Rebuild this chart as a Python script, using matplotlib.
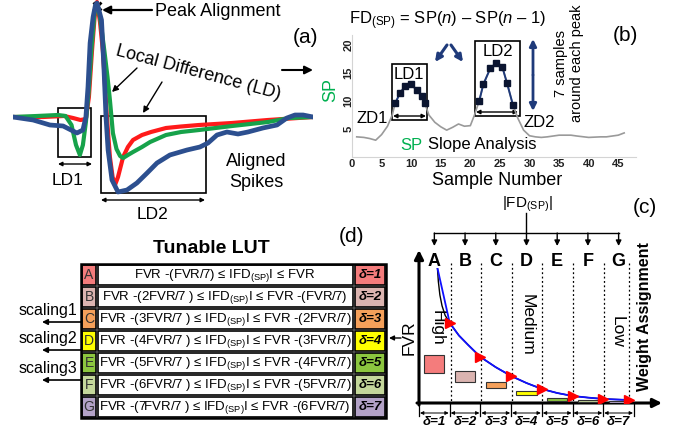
import matplotlib.pyplot as plt
from matplotlib.patches import Rectangle

plt.rcParams['font.family'] = ['Liberation Sans', 'DejaVu Sans']
plt.rcParams['mathtext.fontset'] = 'custom'
plt.rcParams['mathtext.rm'] = 'Liberation Sans'
plt.rcParams['mathtext.it'] = 'Liberation Sans:italic'
plt.rcParams['mathtext.bf'] = 'Liberation Sans:bold'

W, H = 683, 428

# (a) aligned spikes: time index vs amplitude
red_t = [0, 10, 17, 20, 22.5, 24.3, 25.3, 26.3, 27.2, 28, 29, 30, 31.3, 32.3, 33.2, 34,
         35, 36.7, 38.3, 40, 43, 46, 51, 56, 62, 73, 85, 100]
red_amp = [0, 0, 1, -1, -3, -2, 20, 65, 100, 115, 95, 65, 0, -40, -60, -68,
           -60, -40, -30, -23, -18, -15, -11, -9.5, -8, -6, -3, 0]
green_t = [0, 8, 15, 17.5, 19.5, 21, 22.3, 23.3, 24.3, 25.2, 26.2, 27.2, 28, 29, 30.5, 31.5,
           32.3, 33.3, 34.5, 35.7, 36.7, 38.3, 40, 43, 45.7, 51, 56, 62, 73, 85, 92, 100]
green_amp = [0, 1, 2, 1, -8, -28, -38, -28, -5, 25, 70, 105, 113, 100, 65, 40,
             17, -16, -32, -39, -41, -38, -35, -30, -25, -18, -15, -13, -9, -5, -1, 0]
blue_t = [0, 6.7, 12.3, 16.7, 21.3, 23.3, 24.3, 25.0, 25.7, 26.7, 27.5, 28, 29.5, 30.3, 31,
          31.7, 33, 35, 38, 41.3, 44.7, 48, 52.3, 58, 62.3, 65, 68, 71.3, 75, 78.3, 83.3,
          88, 91.3, 94, 96.7, 100]
blue_amp = [0, -3, -8, -9, -16, -13, 0, 30, 74, 100, 112, 114, 97, 50, 0,
            -33, -63, -75, -73, -66, -56, -46, -38, -33, -30, -26, -18, -15, -17, -15, -11,
            -8, -1, 2, 2, 0]

# (b) SP curve
sample_n = [0.8, 2, 3, 4, 5, 6, 6.8, 7.3, 8.1, 9.0, 10.0, 11.0, 11.8, 12.3, 13, 14, 15, 16,
            17, 18, 19, 20, 20.7, 21.5, 22.2, 23.4, 24.4, 25.4, 26.2, 27.2, 28, 29, 30, 31,
            32, 33, 35, 37, 38, 40, 42, 43, 45, 46]
sp_value = [3.6, 3.5, 3.3, 3.0, 4.0, 5.5, 7.5, 9.6, 11.4, 12.7, 13.0, 11.9, 10.9, 9.6, 7.5,
            6.2, 5.4, 4.8, 5.3, 5.9, 5.5, 5.6, 7.5, 10.0, 13.0, 15.9, 16.8, 16.1, 13.2, 9.3,
            7.0, 4.8, 3.8, 3.6, 3.5, 3.6, 3.9, 3.9, 3.75, 3.5, 3.6, 3.6, 3.9, 4.3]
ld1_n = [7.3, 8.1, 9.0, 10.0, 11.0, 11.8, 12.3]
ld1_sp = [9.6, 11.4, 12.7, 13.0, 11.9, 10.9, 9.6]
ld2_n = [21.5, 22.2, 23.4, 24.4, 25.4, 26.2, 27.2]
ld2_sp = [10.0, 13.0, 15.9, 16.8, 16.1, 13.2, 9.3]
b_xticks = [0, 5, 10, 15, 20, 25, 30, 35, 40, 45]
b_yticks = [5, 10, 15, 20]

# (c) weight assignment
bins = ['A', 'B', 'C', 'D', 'E', 'F', 'G']
deltas = ['δ=1', 'δ=2', 'δ=3', 'δ=4', 'δ=5', 'δ=6', 'δ=7']
fvr_x = [0.6, 0.63, 0.68, 0.75, 0.85, 1.0, 1.3, 1.6, 2.0, 2.5, 3.0, 3.5, 4.0, 4.5, 5.0,
         5.5, 6.0, 6.85]
fvr_y = [1.0, 0.9, 0.8, 0.72, 0.65, 0.593, 0.5, 0.43, 0.341, 0.265, 0.2, 0.148, 0.104,
         0.074, 0.052, 0.04, 0.03, 0.022]
marker_x = [1.0, 2.0, 3.0, 4.0, 5.0, 6.0, 6.85]
marker_y = [0.593, 0.341, 0.2, 0.104, 0.052, 0.03, 0.022]
weight_bottom = [0.222, 0.156, 0.111, 0.059, 0.015, 0.008, 0.0]
weight_height = [0.130, 0.078, 0.046, 0.032, 0.022, 0.015, 0.012]

# (d) LUT
lut_rules = [
    'FVR -(FVR/7) ≤ IFD$_{\\mathregular{(SP)}}$I ≤ FVR',
    'FVR -(2FVR/7 ) ≤ IFD$_{\\mathregular{(SP)}}$I ≤ FVR -(FVR/7)',
    'FVR -(3FVR/7 ) ≤ IFD$_{\\mathregular{(SP)}}$I ≤ FVR -(2FVR/7)',
    'FVR -(4FVR/7 ) ≤ IFD$_{\\mathregular{(SP)}}$I ≤ FVR -(3FVR/7)',
    'FVR -(5FVR/7 ) ≤ IFD$_{\\mathregular{(SP)}}$I ≤ FVR -(4FVR/7)',
    'FVR -(6FVR/7 ) ≤ IFD$_{\\mathregular{(SP)}}$I ≤ FVR -(5FVR/7)',
    'FVR -(7FVR/7 ) ≤ IFD$_{\\mathregular{(SP)}}$I ≤ FVR -(6FVR/7)',
]
lut_colors = ['#f47c7c', '#dbb4b0', '#f5a05a', '#ffff00', '#8cc63f', '#c4d79b', '#b3a2c7']
scalings = ['scaling1', 'scaling2', 'scaling3']

NAVY = '#1f3a7a'

fig = plt.figure(figsize=(W / 100, H / 100), dpi=100)
ov = fig.add_axes([0, 0, 1, 1], zorder=0)
ov.set_xlim(0, W)
ov.set_ylim(H, 0)
ov.axis('off')


def px_axes(x0, y0, x1, y1):
    ax = fig.add_axes([x0 / W, 1 - y1 / H, (x1 - x0) / W, (y1 - y0) / H], zorder=1)
    ax.set_facecolor('none')
    return ax


def arrow(x0, y0, x1, y1, color='black', lw=1.2, style='-|>', ms=10):
    ov.annotate('', xy=(x1, y1), xytext=(x0, y0),
                arrowprops=dict(arrowstyle=style, color=color, lw=lw,
                                shrinkA=0, shrinkB=0, mutation_scale=ms))


def box(x0, y0, x1, y1, lw=1.2, fc='none'):
    ov.add_patch(Rectangle((x0, y0), x1 - x0, y1 - y0, fill=fc != 'none',
                           facecolor=fc, edgecolor='black', lw=lw))


# ---------------- (a)
ax_a = px_axes(13, 0, 313, 200)
ax_a.plot(red_t, red_amp, color='#ff1a1a', lw=3.0, solid_capstyle='round')
ax_a.plot(green_t, green_amp, color='#16a24a', lw=3.0, solid_capstyle='round')
ax_a.plot(blue_t, blue_amp, color='#2c4f8f', lw=3.4, solid_capstyle='round')
ax_a.set_xlim(0, 100)
ax_a.set_ylim(-83, 117)
ax_a.axis('off')

ov.plot(97, 6, marker='x', color='black', ms=6, mew=2)
arrow(152, 10, 102, 10, lw=1.6, ms=12)
ov.text(155, 11, 'Peak Alignment', fontsize=13, va='center')
ov.text(306, 37, '(a)', fontsize=15, ha='center', va='center')
arrow(282, 70, 313, 70, lw=1.5, ms=12)
ov.text(198, 73, 'Local Difference (LD)', fontsize=13, rotation=-15,
        ha='center', va='center', rotation_mode='anchor')
arrow(137, 68, 112, 92, lw=1.0, ms=9)
arrow(162, 82, 143, 113, lw=1.0, ms=9)
box(58, 108, 91, 157)
box(101, 116, 206, 193)
arrow(58, 164, 92, 164, style='<|-|>', lw=1.0, ms=6)
arrow(101, 200, 205, 200, style='<|-|>', lw=1.0, ms=6)
ov.text(68, 180, 'LD1', fontsize=12.5, ha='center', va='center')
ov.text(152, 214, 'LD2', fontsize=12.5, ha='center', va='center')
ov.text(256, 172, 'Aligned\nSpikes', fontsize=13, ha='center', va='center',
        linespacing=1.25)

# ---------------- (b)
ax_b = px_axes(352, 35, 636, 157)
ax_b.plot(sample_n, sp_value, color='#9a9a9a', lw=1.2, zorder=2)
ax_b.plot(ld1_n, ld1_sp, color=NAVY, lw=1.4, marker='s', ms=5,
          mfc='#0b1530', mec='#0b1530', zorder=4)
ax_b.plot(ld2_n, ld2_sp, color=NAVY, lw=1.4, marker='s', ms=5,
          mfc='#0b1530', mec='#0b1530', zorder=4)
ax_b.set_xlim(0, 48)
ax_b.set_ylim(0, 21.8)
ax_b.set_xticks(b_xticks)
ax_b.set_yticks(b_yticks)
ax_b.tick_params(length=0, labelsize=8, colors='#222222')
ax_b.tick_params(axis='x', pad=1.5)
ax_b.tick_params(axis='y', pad=-1)
for lbl in ax_b.get_xticklabels():
    lbl.set_fontweight('bold')
for lbl in ax_b.get_yticklabels():
    lbl.set_fontweight('bold')
    lbl.set_rotation(90)
    lbl.set_va('center')
for side in ['top', 'right']:
    ax_b.spines[side].set_visible(False)
for side in ['left', 'bottom']:
    ax_b.spines[side].set_color('#d4d4d4')
    ax_b.spines[side].set_linewidth(0.8)

ov.text(448, 21, 'FD$_{\\mathregular{(SP)}}$ = SP($n$) – SP($n$ – 1)', fontsize=12,
        ha='center', va='center')
ov.text(625, 35, '(b)', fontsize=15, ha='center', va='center')
ov.text(331, 90, 'SP', fontsize=13, color='#00b050', rotation=90, ha='center', va='center')
ov.text(497, 180, 'Sample Number', fontsize=13, ha='center', va='center')
box(392, 64, 427, 120)
box(475, 41, 520, 116)
arrow(393, 116, 426, 116, style='<|-|>', lw=1.0, ms=6)
arrow(476, 112, 518, 112, style='<|-|>', lw=1.0, ms=6)
ov.text(409, 74, 'LD1', fontsize=12, ha='center', va='center')
ov.text(498, 51, 'LD2', fontsize=12, ha='center', va='center')
ov.text(372, 118, 'ZD1', fontsize=12, ha='center', va='center')
ov.text(539, 122, 'ZD2', fontsize=12, ha='center', va='center')
ov.text(400, 145, 'SP', fontsize=12, color='#00b050', ha='left', va='center')
ov.text(428, 145, 'Slope Analysis', fontsize=12, ha='left', va='center')
arrow(447, 45, 435, 62, color=NAVY, lw=2.2, ms=10)
arrow(451, 45, 463, 62, color=NAVY, lw=2.2, ms=10)
arrow(533, 75, 533, 39, color=NAVY, lw=2.0, ms=10)
arrow(533, 75, 533, 111, color=NAVY, lw=2.0, ms=10)
ov.text(569, 63, '7 samples\naround each peak', fontsize=10.5, rotation=90,
        ha='center', va='center', linespacing=1.15)

# ---------------- (c)
cx0, cy0, bw = 419, 403, 30.71
ax_c = px_axes(419, 268, 634, 403)
ax_c.bar([k + 0.5 for k in range(7)], weight_height, bottom=weight_bottom, width=0.66,
         color=lut_colors, edgecolor='#333333', lw=0.8)
ax_c.plot(fvr_x, fvr_y, color='black', lw=1.0)
ax_c.plot([fvr_x[0]] + fvr_x[5:], [fvr_y[0]] + fvr_y[5:], color='#1010ff', lw=1.3)
ax_c.plot(marker_x, marker_y, linestyle='none', marker='>', ms=6.5, color='#ff0000')
ax_c.set_xlim(0, 7)
ax_c.set_ylim(0, 1)
ax_c.axis('off')

ov.text(527, 204, '|FD$_{\\mathregular{(SP)}}$|', fontsize=11, ha='center', va='center')
ov.text(645, 207, '(c)', fontsize=15, ha='center', va='center')
ov.plot([526, 526], [213, 233], color='black', lw=1.0)
letter_x = [cx0 + bw * (k + 0.5) for k in range(7)]
ov.plot([letter_x[0], letter_x[-1]], [233, 233], color='black', lw=1.0)
for k, lab in enumerate(bins):
    arrow(letter_x[k], 233, letter_x[k], 246, lw=1.0, ms=8)
    ov.text(letter_x[k], 261, lab, fontsize=13, fontweight='bold', ha='center', va='center')
arrow(cx0, cy0 + 2, cx0, 250, lw=2.2, ms=13)
arrow(cx0 - 2, cy0, 662, cy0, lw=2.2, ms=13)
for xd in [451, 481, 512, 542, 573, 604, 629]:
    ov.plot([xd, xd], [263, cy0], color='black', lw=0.9, linestyle=(0, (1.5, 2)))
edges = [cx0 + bw * k for k in range(8)]
for xe in edges:
    ov.plot([xe, xe], [cy0, 416], color='black', lw=0.9)
for k, lab in enumerate(deltas):
    arrow(edges[k] + 1, 413, edges[k + 1] - 1, 413, style='<|-|>', lw=0.7, ms=5)
    ov.text((edges[k] + edges[k + 1]) / 2, 422, lab, fontsize=9.5, fontweight='bold',
            fontstyle='italic', ha='center', va='center')
ov.text(437, 328, 'High', fontsize=12.5, rotation=-90, ha='center', va='center')
ov.text(527, 325, 'Medium', fontsize=12.5, rotation=-90, ha='center', va='center')
ov.text(617, 332, 'Low', fontsize=12.5, rotation=-90, ha='center', va='center')
ov.text(644, 317, 'Weight Assignment', fontsize=11.5, fontweight='bold', rotation=90,
        ha='center', va='center')
ov.text(409, 338, 'FVR', fontsize=12.5, rotation=90, ha='center', va='center')
arrow(401, 338, 389, 338, lw=1.0, ms=7)

# ---------------- (d)
ov.text(211, 248, 'Tunable LUT', fontsize=14, fontweight='bold', ha='center', va='center')
ov.text(352, 236, '(d)', fontsize=15, ha='center', va='center')
row_top, row_h = 264, 22
for k in range(7):
    y0 = row_top + row_h * k
    box(82, y0 + 1, 96, y0 + row_h - 1, lw=1.2, fc=lut_colors[k])
    box(98, y0 + 1, 353, y0 + row_h - 1, lw=1.2, fc='white')
    box(355, y0 + 1, 385, y0 + row_h - 1, lw=1.2, fc=lut_colors[k])
    yc = y0 + row_h / 2
    ov.text(89, yc, bins[k], fontsize=10, color='#333333', ha='center', va='center')
    ov.text(225, yc, lut_rules[k], fontsize=9.5, ha='center', va='center')
    ov.text(370, yc, deltas[k], fontsize=9.5, fontweight='bold', fontstyle='italic',
            ha='center', va='center')
box(81, row_top, 386, row_top + 7 * row_h, lw=1.8)
for k, lab in enumerate(scalings):
    ys = [310, 338, 368][k]
    ov.text(48, ys, lab, fontsize=11.5, ha='center', va='center')
    arrow(81, ys + 12, 42, ys + 12, lw=1.2, ms=8)

fig.savefig('out.png', dpi=100)
